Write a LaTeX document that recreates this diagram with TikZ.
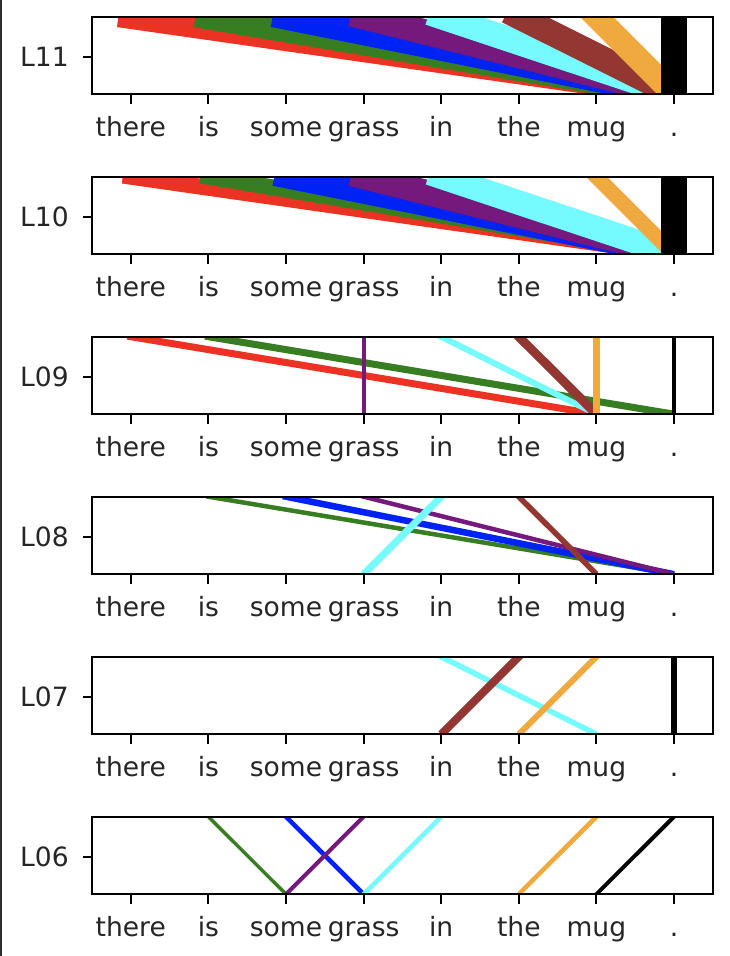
\documentclass[tikz,border=0pt]{standalone}
\usepackage{fontspec}
\setmainfont{DejaVu Sans}
\definecolor{tokR}{RGB}{234,51,35}
\definecolor{tokG}{RGB}{55,126,34}
\definecolor{tokB}{RGB}{0,35,245}
\definecolor{tokP}{RGB}{117,25,124}
\definecolor{tokC}{RGB}{117,251,253}
\definecolor{tokBr}{RGB}{148,55,50}
\definecolor{tokO}{RGB}{240,169,62}
\definecolor{tokK}{RGB}{0,0,0}
\definecolor{edgegray}{RGB}{45,45,45}
\tikzset{
  axbox/.style={draw=black, line width=1.6pt},
  tickmark/.style={draw=black, line width=1.6pt},
  lab/.style={font=\fontsize{19.9pt}{24pt}\selectfont, inner sep=0pt, text=black!85},
}
% #1 colour, #2 from token (top), #3 to token (bottom), #4 width in px
\newcommand\attline[4]{\draw[#1, line width=#4*0.75pt, line cap=butt, shorten <=-#4*0.375pt] ({130.8+77.6*#2},0) -- ({130.8+77.6*#3},77.5);}
% #1 top (px), #2 label, #3 name, #4 lines
\newcommand\plotpanel[4]{%
\begin{scope}[shift={(0,#1)}]
  \begin{scope}
    \clip (92,0) rectangle (712.8,77.5);
    #4
  \end{scope}
  \draw[axbox] (92,0) rectangle (712.8,77.5);
  \foreach \i/\w in {0/there,1/is,2/some,3/grass,4/in,5/the,6/mug,7/.}{
    \draw[tickmark] ({130.8+77.6*\i},77.5) -- ++(0,9.3);
    \node[lab, anchor=base] (#3-\i) at ({130.8+77.6*\i},119.3) {\w};
  }
  \draw[tickmark] (92,40.5) -- ++(-9.3,0);
  \node[lab, anchor=base east] (#3-y) at (69,50) {#2};
\end{scope}}
\begin{document}
\begin{tikzpicture}[x=0.75pt,y=-0.75pt]
\useasboundingbox (0,0) rectangle (730,956);
\fill[white] (0,0) rectangle (730,956);
\fill[edgegray] (0,0) rectangle (2,956);

\plotpanel{16.7}{L11}{p11}{%
  \attline{tokR}{0}{7}{24.5}
  \attline{tokG}{1}{7}{25.5}
  \attline{tokB}{2}{7}{26}
  \attline{tokP}{3}{7}{25.5}
  \attline{tokC}{4}{7}{25}
  \attline{tokBr}{5}{7}{25}
  \attline{tokO}{6}{7}{23.5}
  \attline{tokK}{7}{7}{25.7}}

\plotpanel{176.7}{L10}{p10}{%
  \attline{tokR}{0}{7}{16}
  \attline{tokG}{1}{7}{16}
  \attline{tokB}{2}{7}{23}
  \attline{tokP}{3}{7}{25}
  \attline{tokC}{4}{7}{24.5}
  \attline{tokO}{6}{7}{15}
  \attline{tokK}{7}{7}{25.7}}

\plotpanel{336.7}{L09}{p09}{%
  \attline{tokR}{0}{6}{7}
  \attline{tokG}{1}{7}{7}
  \attline{tokP}{3}{3}{4}
  \attline{tokC}{4}{6}{6}
  \attline{tokBr}{5}{6}{9}
  \attline{tokO}{6}{6}{6.5}
  \attline{tokK}{7}{7}{4.5}}

\plotpanel{496.7}{L08}{p08}{%
  \attline{tokG}{1}{7}{4.5}
  \attline{tokB}{2}{7}{6.5}
  \attline{tokP}{3}{7}{4.5}
  \attline{tokC}{4}{3}{7}
  \attline{tokBr}{5}{6}{5.5}}

\plotpanel{656.7}{L07}{p07}{%
  \attline{tokC}{4}{6}{5.5}
  \attline{tokBr}{5}{4}{8}
  \attline{tokO}{6}{5}{6}
  \attline{tokK}{7}{7}{6}}

\plotpanel{816.7}{L06}{p06}{%
  \attline{tokG}{1}{2}{3.5}
  \attline{tokB}{2}{3}{4.5}
  \attline{tokP}{3}{2}{4}
  \attline{tokC}{4}{3}{4.5}
  \attline{tokO}{6}{5}{4.5}
  \attline{tokK}{7}{6}{4}}
\end{tikzpicture}
\end{document}
